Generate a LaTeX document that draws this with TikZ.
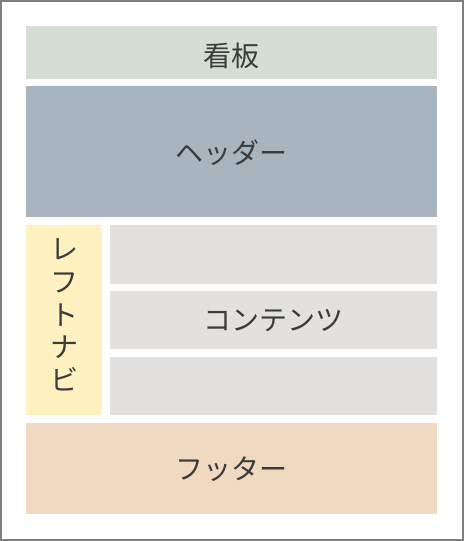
\documentclass[tikz,border=0pt]{standalone}
\usepackage{fontspec}
\newfontfamily\jpfont{Noto Sans CJK JP}
\definecolor{kanbancol}{HTML}{D4DED2}
\definecolor{headercol}{HTML}{A8B5BE}
\definecolor{navcol}{HTML}{FFF2C0}
\definecolor{contentcol}{HTML}{E2E1E0}
\definecolor{footercol}{HTML}{EFD9C0}
\definecolor{framecol}{HTML}{808080}
\definecolor{textcol}{HTML}{3C3C3C}
\tikzset{
    label text/.style={text=textcol, font=\jpfont\fontsize{21pt}{25pt}\selectfont, inner sep=0pt},
    nav text/.style={label text, align=center, font=\jpfont\fontsize{21pt}{24.5pt}\selectfont}
}
\begin{document}
\begin{tikzpicture}[x=0.75pt,y=-0.75pt]
        \useasboundingbox (0,0) rectangle (464,541);
        \draw[framecol, line width=1.5pt] (1,1) rectangle (463,540);

        \fill[kanbancol ] ( 26, 26) rectangle (437, 79);
        \fill[headercol ] ( 26, 86) rectangle (437,217);
        \fill[navcol    ] ( 26,225) rectangle (102,415);
        \fill[contentcol] (110,225) rectangle (437,284);
        \fill[contentcol] (110,291) rectangle (437,349);
        \fill[contentcol] (110,357) rectangle (437,415);
        \fill[footercol ] ( 26,423) rectangle (437,514);

        \node[label text] (kanban)  at (231.5, 55.5) {看板};
        \node[label text] (header)  at (231.5,153  ) {ヘッダー};
        \node[nav text  ] (leftnav) at ( 64  ,315  ) {レ\\フ\\ト\\ナ\\ビ};
        \node[label text] (content) at (273.5,321  ) {コンテンツ};
        \node[label text] (footer)  at (231.5,469  ) {フッター};
\end{tikzpicture}
\end{document}
